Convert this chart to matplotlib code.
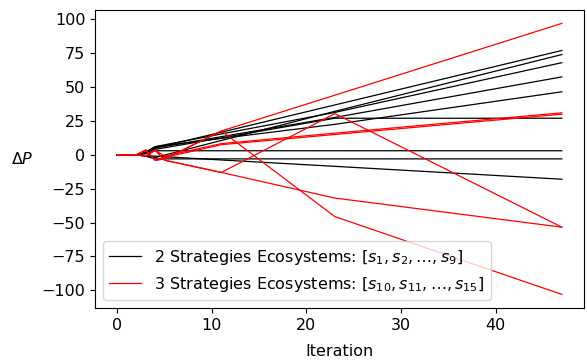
import matplotlib
matplotlib.use("Agg")
import matplotlib.pyplot as plt

plt.rcParams['font.size'] = 11.5

# iterations at which Delta P was recorded
iterations = [0, 1, 2, 3, 4, 5, 11, 23, 47]

# 2 strategies ecosystems (s1 .. s9)
black_series = [
    [0, 0, 0, 1.5, 5, 6.7, 16.7, 36.8, 77],
    [0, 0, 0, -0.5, -2, -0.2, 10.6, 32.1, 74],
    [0, 0, 0, 2, 6, 7.4, 15.4, 31.3, 68],
    [0, 0, 0, 1.5, 5, 6.2, 13.4, 27.6, 57.5],
    [0, 0, 0, 2, 6, 6.9, 12.1, 22.5, 46.5],
    [0, 0, 0, 1.5, 4, 5.2, 12.5, 27, 27],
    [0, 0, 0, 1, 3, 3, 3, 3, 3],
    [0, 0, 0, -1, -3, -3, -3, -3, -3],
    [0, 0, 0, -0.5, -1, -1.4, -3.8, -8.5, -18],
]

# 3 strategies ecosystems (s10 .. s15)
red_series = [
    [0, 0, 0, 3.5, -4, -3, 17.6, 44, 97],
    [0, 0, 0, 3.5, -4, -3, 17.6, -45.6, -103],
    [0, 0, 0, -1, 3.5, -4, -13, 30.4, -53.4],
    [0, 0, 0, -1, 3.5, -4, -13, -31.9, -53.4],
    [0, 0, 0, 3.5, -4, -2, 7.5, 15, 30],
    [0, 0, 0, -1, 3.5, -1, 8.3, 16, 31],
]

fig, ax = plt.subplots(figsize=(5.87, 3.64), dpi=100)
fig.subplots_adjust(left=0.162, right=0.995, top=0.973, bottom=0.154)

for i, vals in enumerate(black_series):
    ax.plot(iterations, vals, color='black', lw=0.9,
            label=r'2 Strategies Ecosystems: $[s_1, s_2, \ldots, s_9]$' if i == 0 else None)
for i, vals in enumerate(red_series):
    ax.plot(iterations, vals, color='red', lw=0.9,
            label=r'3 Strategies Ecosystems: $[s_{10}, s_{11}, \ldots, s_{15}]$' if i == 0 else None)

ax.set_xlabel('Iteration', labelpad=8)
ax.set_ylabel(r'$\Delta P$', rotation=0, ha='center', va='center')
ax.yaxis.set_label_coords(-0.149, 0.5)
ax.set_yticks([-100, -75, -50, -25, 0, 25, 50, 75, 100])
ax.legend(loc='lower left')

fig.savefig('out.png', dpi=100)
